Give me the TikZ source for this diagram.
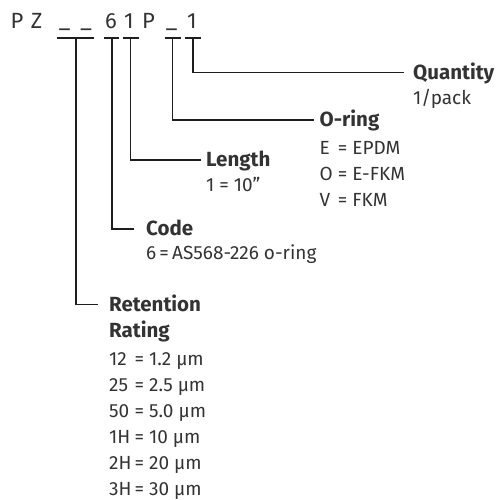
\documentclass[tikz,border=0pt]{standalone}
\usepackage{fontspec}
\setmainfont{Fira Sans}
\usepackage{tikz}
\usetikzlibrary{positioning}
\definecolor{ink}{HTML}{333333}
\definecolor{rule}{HTML}{1E1E1E}

\begin{document}
\begin{tikzpicture}[
    x=1pt, y=-1pt,
    codechar/.style={font=\fontsize{22}{22}\selectfont, text=ink, inner sep=0pt, anchor=base},
    field/.style={font=\fontsize{20.5}{26}\selectfont\bfseries, text=ink, inner sep=0pt, text height=14pt, text depth=0pt, anchor=west},
    note/.style={font=\fontsize{19}{26}\selectfont, text=ink, inner sep=0pt, anchor=base west},
    bar/.style={draw=rule, line width=1.9pt},
    lead/.style={draw=rule, line width=1.9pt}
]
\useasboundingbox (0,0) rectangle (504,500);

% Part number characters
\node[codechar] (p1) at (17, 29) {P};
\node[codechar] (z) at (36.5, 29) {Z};
\node[codechar] (u1) at (64.5, 27.5) {\_};
\node[codechar] (u2) at (86, 27.5) {\_};
\node[codechar] (six) at (111, 29) {6};
\node[codechar] (one) at (129, 29) {1};
\node[codechar] (p2) at (148.5, 29) {P};
\node[codechar] (u3) at (171.5, 27.5) {\_};
\node[codechar] (one2) at (192, 29) {1};

% Taps under each group
\coordinate (tapR) at (76, 38);
\coordinate (tapC) at (112, 38);
\coordinate (tapL) at (130.5, 38);
\coordinate (tapO) at (172.5, 38);
\coordinate (tapQ) at (193, 38);

\draw[bar] ([xshift=-19pt]tapR) -- ([xshift=18pt]tapR);
\draw[bar] ([xshift=-8pt]tapC) -- ([xshift=7pt]tapC);
\draw[bar] ([xshift=-8pt]tapL) -- ([xshift=8pt]tapL);
\draw[bar] ([xshift=-8pt]tapO) -- ([xshift=8pt]tapO);
\draw[bar] ([xshift=-8pt]tapQ) -- ([xshift=8pt]tapQ);

% Field headings
\node[field] (qty) at (413, 72.5) {Quantity};
\node[field] (oring) at (319.5, 120) {O-ring};
\node[field] (len) at (206, 160) {Length};
\node[field] (code) at (146, 229) {Code};
\node[field] (ret) at (109, 304.5) {Retention};
\node[field] (rat) at (109, 330.5) {Rating};

% Field values
\node[note] at ([yshift=-25pt]qty.base west) {1/pack};
\node[note] at ([yshift=-28pt]oring.base west) {\begin{tabular}[t]{@{}l@{\hspace{5pt}}c@{\hspace{5pt}}l@{}}
    E & = & EPDM\\
    O & = & E-FKM\\
    V & = & FKM
  \end{tabular}};
\node[note] at ([yshift=-25pt]len.base west) {1 = 10"};
\node[note] at ([yshift=-24pt]code.base west) {6\,=\,AS568-226 o-ring};
\node[note] at ([yshift=-28pt]rat.base west) {\begin{tabular}[t]{@{}l@{\hspace{3pt}}c@{\hspace{5pt}}l@{}}
    12 & = & 1.2 µm\\
    25 & = & 2.5 µm\\
    50 & = & 5.0 µm\\
    1H & = & 10 µm\\
    2H & = & 20 µm\\
    3H & = & 30 µm
  \end{tabular}};

% Leads from taps to headings
\draw[lead, shorten >=9pt] (tapQ) |- (qty.west);
\draw[lead, shorten >=6pt] (tapO) |- (oring.west);
\draw[lead, shorten >=5pt] (tapL) |- (len.west);
\draw[lead, shorten >=12pt] (tapC) |- (code.west);
\draw[lead, shorten >=11pt] (tapR) |- (ret.west);

\end{tikzpicture}
\end{document}
